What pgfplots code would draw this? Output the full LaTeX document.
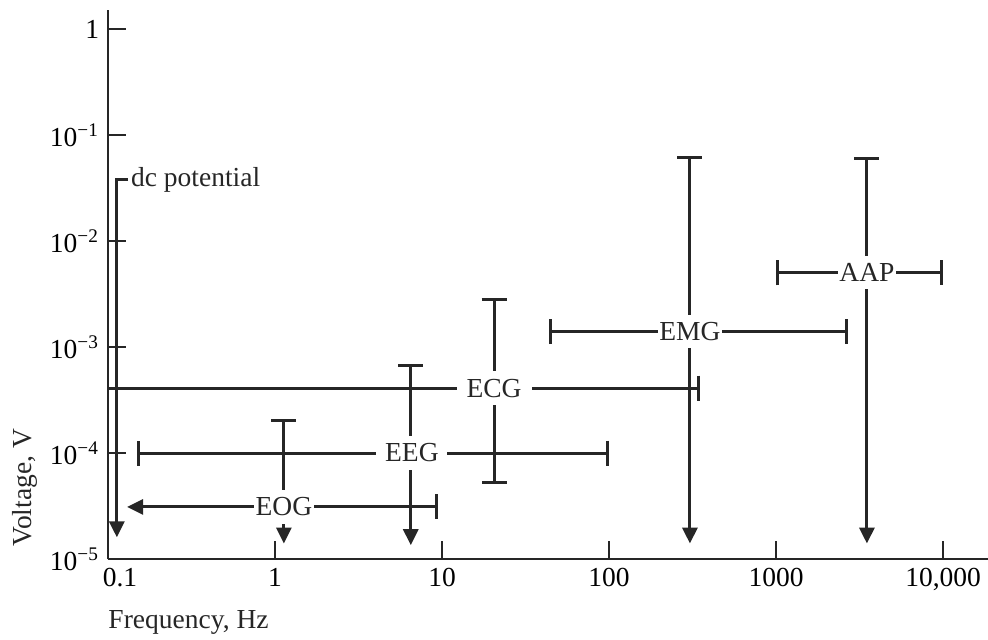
\documentclass[border=0pt]{standalone}
\usepackage{fontspec}
\setmainfont{Liberation Serif}
\usepackage{pgfplots}
\pgfplotsset{compat=1.18}
\usetikzlibrary{arrows.meta}

\begin{document}
\begin{tikzpicture}[font=\fontsize{11}{13}\selectfont,
    lbl/.style={fill=white, inner xsep=0.6pt, inner ysep=3pt, text=black!85}]
\begin{axis}[
    scale only axis,
    width=352pt,
    height=219.6pt,
    xmode=log,
    ymode=log,
    xmin=0.1, xmax=18580,
    ymin=1e-5, ymax=1.51,
    axis x line*=bottom,
    axis y line*=left,
    axis line style={line width=1pt, black!85},
    tick align=inside,
    major tick length=7.2pt,
    tick style={line width=1pt, black!85},
    xminorticks=false,
    yminorticks=false,
    xtick={0.1,1,10,100,1000,10000},
    xticklabels={\hspace{9.6pt}0.1,1,10,100,1000,{10,000}},
    ytick={1e-5,1e-4,1e-3,1e-2,1e-1,1},
    yticklabels={10\textsuperscript{−5},10\textsuperscript{−4},10\textsuperscript{−3},10\textsuperscript{−2},10\textsuperscript{−1},1},
    clip=false,
    every axis plot/.append style={line width=1.2pt, black!85},
]
% dc potential
\addplot[-{Triangle[width=6pt,length=6.4pt]}] coordinates {(0.132,0.038) (0.113,0.038) (0.113,1.6e-5)};
% ECG
\addplot[-{Bar[width=10pt]}] coordinates {(0.1,4.1e-4) (350,4.1e-4)};
\addplot[{Bar[width=10pt]}-{Bar[width=10pt]}] coordinates {(20.5,5.1e-5) (20.5,2.9e-3)};
% EEG
\addplot[{Bar[width=10pt]}-{Bar[width=10pt]}] coordinates {(0.15,1e-4) (100,1e-4)};
\addplot[{Triangle[width=6pt,length=6.4pt]}-{Bar[width=10pt]}] coordinates {(6.5,1.35e-5) (6.5,6.9e-4)};
% EOG
\addplot[{Triangle[width=6pt,length=6.4pt]}-{Bar[width=10pt]}] coordinates {(0.13,3.1e-5) (9.5,3.1e-5)};
\addplot[{Triangle[width=6pt,length=6.4pt]}-{Bar[width=10pt]}] coordinates {(1.13,1.4e-5) (1.13,2.1e-4)};
% EMG
\addplot[{Bar[width=10pt]}-{Bar[width=10pt]}] coordinates {(44,1.4e-3) (2700,1.4e-3)};
\addplot[{Triangle[width=6pt,length=6.4pt]}-{Bar[width=10pt]}] coordinates {(305,1.4e-5) (305,0.063)};
% AAP
\addplot[{Bar[width=10pt]}-{Bar[width=10pt]}] coordinates {(1000,5e-3) (10000,5e-3)};
\addplot[{Triangle[width=6pt,length=6.4pt]}-{Bar[width=10pt]}] coordinates {(3500,1.4e-5) (3500,0.062)};

\node[lbl, inner xsep=4pt] at (axis cs:20.5,4.1e-4) {ECG};
\node[lbl, inner xsep=3.5pt] at (axis cs:6.6,1e-4) {EEG};
\node[lbl] at (axis cs:1.13,3.1e-5) {EOG};
\node[lbl] at (axis cs:305,1.4e-3) {EMG};
\node[lbl] at (axis cs:3500,5e-3) {AAP};
\node[anchor=west, inner xsep=1pt, text=black!85] at (axis cs:0.132,0.038) {dc potential};

\node[rotate=90, text=black!85] at (rel axis cs:-0.0943,0.13) {Voltage, V};
\node[anchor=west, inner sep=0pt, text=black!85] at (rel axis cs:0,-0.115) {Frequency, Hz};
\coordinate (o) at (rel axis cs:0,0);
\end{axis}
\pgfresetboundingbox
\path (o) ++(-43.2pt,-32pt) rectangle ++(395.2pt,255.6pt);
\end{tikzpicture}
\end{document}
